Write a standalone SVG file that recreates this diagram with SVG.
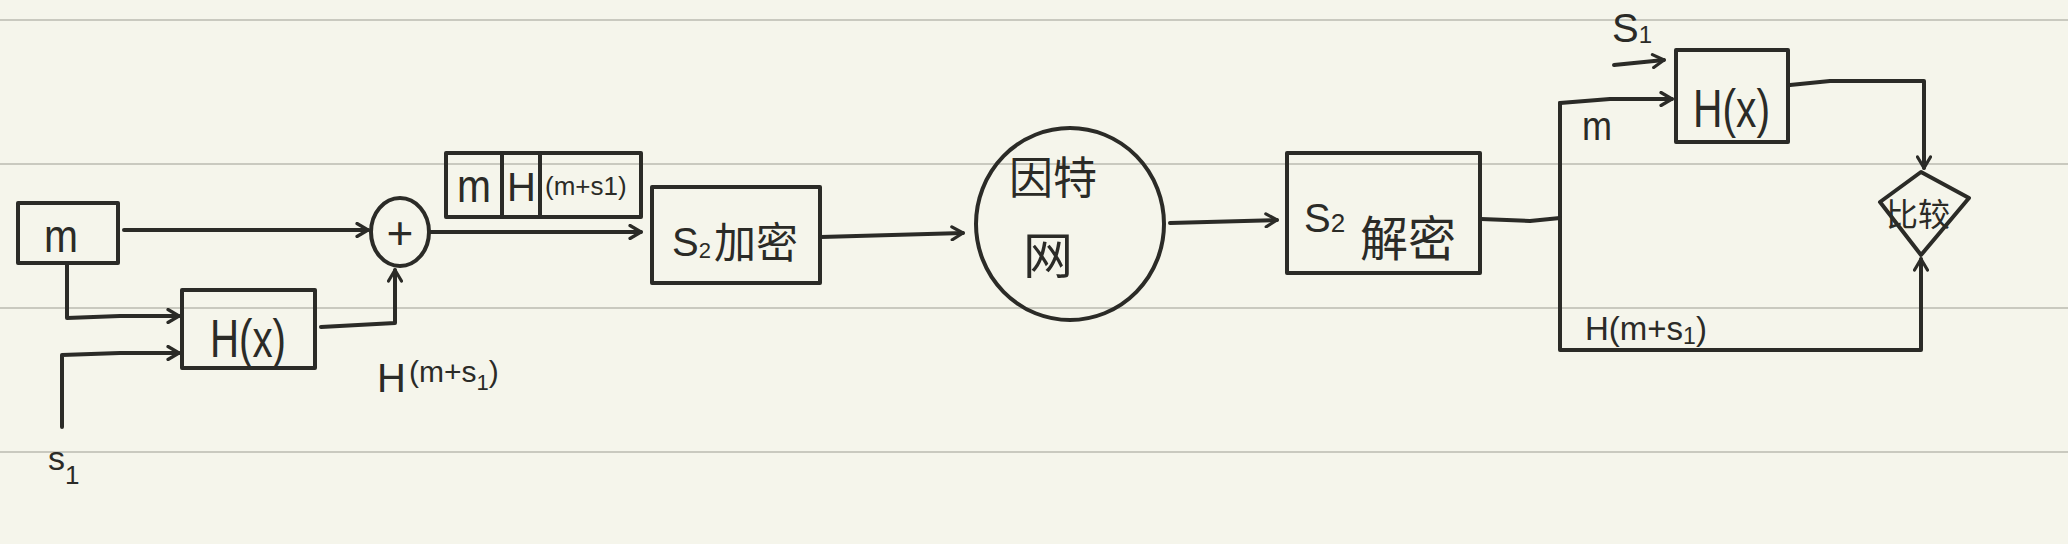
<svg xmlns="http://www.w3.org/2000/svg" width="2068" height="544" viewBox="0 0 2068 544">
<style>
.bg{fill:#f5f5eb}
.rule{stroke:#babab1;stroke-width:1.6}
.s{fill:none;stroke:#2b2b27;stroke-width:4;stroke-linecap:round;stroke-linejoin:round}
.t{font-family:"Liberation Sans",Arial,sans-serif;fill:#2b2b27}
.c{font-family:"Noto Sans CJK SC","Noto Sans CJK JP",sans-serif;fill:#2b2b27}
</style>
<defs>
<marker id="ah" viewBox="0 0 16 16" refX="13" refY="8" markerWidth="16" markerHeight="16" markerUnits="userSpaceOnUse" orient="auto">
<path d="M2,1.5 L13,8 L2,14.5" fill="none" stroke="#2b2b27" stroke-width="3.2" stroke-linecap="round" stroke-linejoin="round"/>
</marker>
</defs>
<rect class="bg" x="0" y="0" width="2068" height="544"/>
<g id="rules">
<line class="rule" x1="0" y1="20" x2="2068" y2="20"/>
<line class="rule" x1="0" y1="164" x2="2068" y2="164"/>
<line class="rule" x1="0" y1="308" x2="2068" y2="308"/>
<line class="rule" x1="0" y1="452" x2="2068" y2="452"/>
</g>
<g id="connectors">
<path class="s" d="M124,230 H368" marker-end="url(#ah)"/>
<path class="s" d="M67,263 V318 L120,316 H179" marker-end="url(#ah)"/>
<path class="s" d="M62,427 V355 L120,353 H179" marker-end="url(#ah)"/>
<path class="s" d="M321,327 L395,323 V270" marker-end="url(#ah)"/>
<path class="s" d="M430,232 H641" marker-end="url(#ah)"/>
<path class="s" d="M821,237 L963,233" marker-end="url(#ah)"/>
<path class="s" d="M1170,223 L1277,220" marker-end="url(#ah)"/>
<path class="s" d="M1481,219 L1530,221 L1560,218"/>
<path class="s" d="M1560,218 V103"/>
<path class="s" d="M1560,103 L1610,99 H1672" marker-end="url(#ah)"/>
<path class="s" d="M1614,65 L1664,60" marker-end="url(#ah)"/>
<path class="s" d="M1560,218 V350 H1921 V259" marker-end="url(#ah)"/>
<path class="s" d="M1790,85 L1830,81 H1924 V168" marker-end="url(#ah)"/>
</g>
<g id="node-m">
<rect class="s" x="18" y="203" width="100" height="60"/>
<text class="t" x="44" y="252" font-size="46" textLength="34" lengthAdjust="spacingAndGlyphs">m</text>
</g>
<g id="node-hx">
<rect class="s" x="182" y="290" width="133" height="78"/>
<text class="t" x="210" y="357" font-size="54" textLength="76" lengthAdjust="spacingAndGlyphs">H(x)</text>
</g>
<g id="node-plus">
<ellipse class="s" cx="400" cy="232" rx="29" ry="34"/>
<text class="t" x="400" y="249" font-size="46" text-anchor="middle">+</text>
</g>
<g id="label-hms1">
<text class="t" x="377" y="392" font-size="40">H</text>
<text class="t" x="409" y="382" font-size="30">(m+s<tspan font-size="22" dy="8">1</tspan><tspan dy="-8">)</tspan></text>
</g>
<g id="label-s1-left">
<text class="t" x="48" y="470" font-size="34">s<tspan font-size="26" dy="14">1</tspan></text>
</g>
<g id="node-packet">
<rect class="s" x="446" y="153" width="195" height="64"/>
<line class="s" x1="502" y1="153" x2="502" y2="217"/>
<line class="s" x1="540" y1="153" x2="540" y2="217"/>
<text class="t" x="457" y="202" font-size="46" textLength="34" lengthAdjust="spacingAndGlyphs">m</text>
<text class="t" x="507" y="201" font-size="40">H</text>
<text class="t" x="545" y="195" font-size="26">(m+s1)</text>
</g>
<g id="node-encrypt">
<rect class="s" x="652" y="187" width="168" height="96"/>
<text class="t" x="672" y="256" font-size="40">S<tspan font-size="22" dy="2">2</tspan></text>
<text class="c" x="714" y="258" font-size="42">加密</text>
</g>
<g id="node-internet">
<ellipse class="s" cx="1070" cy="224" rx="94" ry="96"/>
<text class="c" x="1053" y="194" font-size="44" text-anchor="middle">因特</text>
<text class="c" x="1048" y="274" font-size="50" text-anchor="middle">网</text>
</g>
<g id="node-decrypt">
<rect class="s" x="1287" y="153" width="193" height="120"/>
<text class="t" x="1304" y="232" font-size="40">S<tspan font-size="26">2</tspan></text>
<text class="c" x="1360" y="256" font-size="48">解密</text>
</g>
<g id="label-m-right">
<text class="t" x="1582" y="140" font-size="40" textLength="30" lengthAdjust="spacingAndGlyphs">m</text>
</g>
<g id="label-s1-right">
<text class="t" x="1612" y="42" font-size="40">S<tspan font-size="24" dy="1">1</tspan></text>
</g>
<g id="node-hx2">
<rect class="s" x="1676" y="50" width="112" height="92"/>
<text class="t" x="1693" y="127" font-size="54" textLength="77" lengthAdjust="spacingAndGlyphs">H(x)</text>
</g>
<g id="node-compare">
<polygon class="s" points="1921,172 1969,198 1921,255 1880,202"/>
<text class="c" x="1918" y="226" font-size="32" text-anchor="middle">比较</text>
</g>
<g id="label-hms1-right">
<text class="t" x="1585" y="340" font-size="33">H(m+s<tspan font-size="23" dy="4">1</tspan><tspan dy="-4">)</tspan></text>
</g>
</svg>
